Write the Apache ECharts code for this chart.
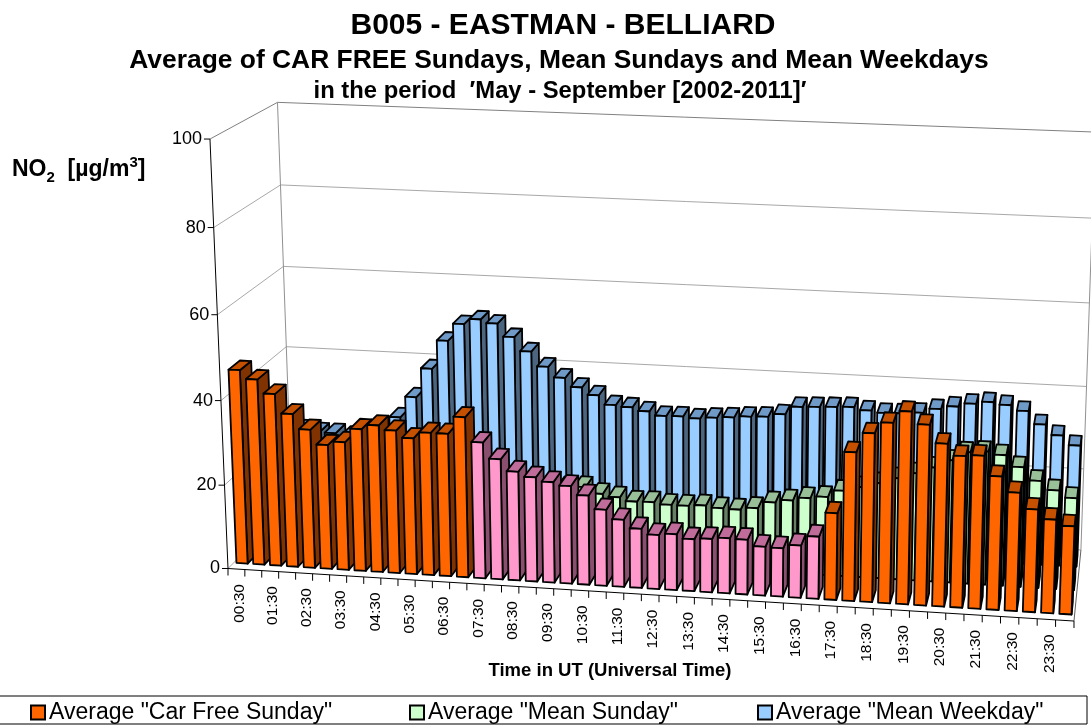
<!DOCTYPE html>
<html>
<head>
<meta charset="utf-8">
<style>html,body{margin:0;padding:0;background:#fff}#c{width:1091px;height:725px}</style>
<script src="https://cdn.jsdelivr.net/npm/echarts@6/dist/echarts.min.js"></script>
</head>
<body>
<div id="c"></div>
<script>
const categories = ['00:30','01:00','01:30','02:00','02:30','03:00','03:30','04:00','04:30','05:00','05:30','06:00',
  '06:30','07:00','07:30','08:00','08:30','09:00','09:30','10:00','10:30','11:00','11:30','12:00',
  '12:30','13:00','13:30','14:00','14:30','15:00','15:30','16:00','16:30','17:00','17:30','18:00',
  '18:30','19:00','19:30','20:00','20:30','21:00','21:30','22:00','22:30','23:00','23:30','24:00'];
const carFreeSunday = [46.2,44.2,41.0,36.5,33.0,29.6,30.5,33.8,34.9,33.9,32.3,33.8,
  33.8,37.9,32.2,28.5,25.8,24.7,23.8,23.1,21.1,18.0,15.9,14.0,
  12.8,13.2,12.3,12.6,13.0,12.9,11.5,11.4,12.3,14.6,20.3,34.6,
  39.2,41.8,44.6,41.8,37.7,35.1,35.4,30.9,27.4,23.8,21.7,20.4];
const meanSunday = [24,24,23,22,21,20,19,19,19,18,18,18,
  18,18,18,18,18,17.5,17.5,17.8,16.4,15.8,15.0,15.1,
  14.7,14.7,15.0,14.6,14.5,15.1,16.7,17.4,18.2,18.7,20.4,21.5,
  22.7,24.1,25.5,27.1,29.0,31.1,31.5,30.9,28.3,25.3,23.3,21.7];
const meanWeekday = [24,23,22.5,22.5,22,22.5,24,27.3,32.5,39.7,46.7,51,
  52.3,51.5,48.4,45.1,41.6,39.1,37,35.3,33.1,32.8,32,31.1,
  31.2,30.9,31.3,31.6,32,32.2,33,35,35.2,35.4,35.6,35,
  34.6,34.7,35.1,36.2,37,37.9,38.5,38,36.8,33.8,31.4,29.2];
const valueTicks = [0,20,40,60,80,100];
const carFreeWindow = ['07:30','17:00'];
const seriesNames = ['Average "Car Free Sunday"','Average "Mean Sunday"','Average "Mean Weekday"'];

const FONT = '"Liberation Sans", Arial, sans-serif';
const G = {left:100, top:100, width:800, height:400};
// perspective of the floor/wall box: x across, d depth, z height (all 0..1)
function project(x, d, z) {
  const u = 228 + 798.2*x + 85.2*d - 25.8*z;
  const v = 568.5 + 24.9*x - 27.9*d - 434.6*z;
  const w = 1 - 0.0445*x + 0.0727*d - 0.037*z;
  return [u/w, v/w];
}
const gx = px => (px - G.left)/G.width;
const gz = py => (G.top + G.height - py)/G.height;

const palette = {
  orange:{front:'#FF6600', side:'#803300', top:'#C45000'},
  pink:{front:'#FF99CC', side:'#8A4F6E', top:'#BF6C9A'},
  green:{front:'#CCFFCC', side:'#668066', top:'#99BF99'},
  blue:{front:'#99CCFF', side:'#4D6680', top:'#6F9AC8'}
};
const winStart = categories.indexOf(carFreeWindow[0]), winEnd = categories.indexOf(carFreeWindow[1]);

function barRenderer(row, colourOf) {
  const d0 = (row + 0.25)/3, d1 = (row + 0.75)/3;
  return function (params, api) {
    const i = api.value(0), val = api.value(1);
    const c = api.coord([i, val]), base = api.coord([i, 0]);
    const half = api.size([1, 0])[0]/3;
    const xa = gx(c[0]-half), xb = gx(c[0]+half), zt = gz(c[1]), zb = gz(base[1]);
    const col = colourOf(i);
    const poly = (pts, fill) => ({type:'polygon', shape:{points:pts},
      style:{fill, stroke:'#000', lineWidth:1.8, lineJoin:'round'}});
    return {type:'group', children:[
      poly([project(xb,d0,zb),project(xb,d1,zb),project(xb,d1,zt),project(xb,d0,zt)], col.side),
      poly([project(xa,d0,zt),project(xb,d0,zt),project(xb,d1,zt),project(xa,d1,zt)], col.top),
      poly([project(xa,d0,zb),project(xb,d0,zb),project(xb,d0,zt),project(xa,d0,zt)], col.front)
    ]};
  };
}

function frameRenderer(params, api) {
  const kids = [];
  const line = (a, b, stroke, lw) => kids.push({type:'line', shape:{x1:a[0],y1:a[1],x2:b[0],y2:b[1]},
    style:{stroke, lineWidth:lw||1}});
  valueTicks.forEach(v => {
    const z = gz(api.coord([0, v])[1]);
    const col = v === 100 ? '#808080' : '#A8A8A8';
    line(project(0,0,z), project(0,1,z), col);
    line(project(0,1,z), project(1,1,z), col);
    const p = project(0,0,z);
    line([p[0]-6,p[1]], p, '#000');
    kids.push({type:'text', style:{text:String(v), x:p[0]-8, y:p[1], align:'right', verticalAlign:'middle',
      font:'18px '+FONT, fill:'#000'}});
  });
  line(project(0,1,0), project(0,1,1), '#909090');
  line(project(1,0,0), project(1,1,0), '#606060');
  line(project(1,1,0), project(1,1,1), '#909090');
  line(project(0,0,0), project(0,0,1), '#000');
  line(project(0,0,0), project(1,0,0), '#000');
  const half = api.size([1,0])[0]/2;
  categories.forEach((name, i) => {
    const cx = api.coord([i, 0])[0];
    const t = project(gx(cx-half),0,0);
    line(t, [t[0], t[1]+7], '#000');
    if (i === categories.length-1) { const e = project(1,0,0); line(e,[e[0],e[1]+7],'#000'); }
    if (i % 2 === 0) {
      const m = project(gx(cx),0,0);
      kids.push({type:'text', x:m[0]+3, y:m[1]+15, rotation:Math.PI/2,
        style:{text:name, x:0, y:0, align:'right', verticalAlign:'middle', font:'15.5px '+FONT, fill:'#000'}});
    }
  });
  return {type:'group', children:kids};
}

const rowData = vals => vals.map((v,i)=>[i,v]);
const chart = echarts.init(document.getElementById('c'), null, {renderer:'canvas'});
const titleLine = (text, y, size, cx, extra) => Object.assign({text, left:cx, top:y, textAlign:'center',
  textStyle:{fontFamily:FONT, fontWeight:'bold', fontSize:size, color:'#000'}}, extra||{});
const legendBase = {top:701, itemWidth:14, itemHeight:14, selectedMode:false, itemGap:6, padding:0, icon:'rect',
  textStyle:{fontFamily:FONT, fontSize:23, color:'#000', padding:[0,0,0,-1]}};
chart.setOption({
  animation:false,
  backgroundColor:'#fff',
  title:[
    titleLine('B005 - EASTMAN - BELLIARD', 6, 30, 558),
    titleLine('Average of CAR FREE Sundays, Mean Sundays and Mean Weekdays', 43, 26.4, 554),
    titleLine("in the period  \u2032May - September [2002-2011]\u2032", 74, 23.8, 555),
    titleLine('Time in UT (Universal Time)', 656, 18.5, 605),
    {left:7, top:150, text:'{a|NO}{s|2}{a|  [\u00b5g/m}{p|3}{a|]}',
     textStyle:{rich:{
       a:{fontFamily:FONT,fontWeight:'bold',fontSize:23,color:'#000',lineHeight:30},
       s:{fontFamily:FONT,fontWeight:'bold',fontSize:15,color:'#000',verticalAlign:'bottom',lineHeight:30},
       p:{fontFamily:FONT,fontWeight:'bold',fontSize:15,color:'#000',verticalAlign:'top',lineHeight:30}}}}
  ],
  grid:{left:G.left, top:G.top, width:G.width, height:G.height, show:false},
  xAxis:{type:'category', data:categories, show:false},
  yAxis:{type:'value', min:0, max:100, interval:20, show:false},
  legend:[
    Object.assign({}, legendBase, {left:30, data:[seriesNames[0]]}),
    Object.assign({}, legendBase, {left:409, data:[seriesNames[1]]}),
    Object.assign({}, legendBase, {left:757, data:[seriesNames[2]]})
  ],
  graphic:[{type:'rect', silent:true, z:-1, shape:{x:-2,y:696,width:1089,height:28},
    style:{fill:'#fff', stroke:'#000', lineWidth:1}}],
  tooltip:{show:false},
  series:[
    {type:'custom', name:'frame', z:1, silent:true, clip:false, data:[[0,0]], renderItem:frameRenderer},
    {type:'custom', name:seriesNames[2], z:2, clip:false, encode:{x:0,y:1}, data:rowData(meanWeekday),
      itemStyle:{color:palette.blue.front,borderColor:'#000',borderWidth:1},
      renderItem:barRenderer(2, ()=>palette.blue)},
    {type:'custom', name:seriesNames[1], z:3, clip:false, encode:{x:0,y:1}, data:rowData(meanSunday),
      itemStyle:{color:palette.green.front,borderColor:'#000',borderWidth:1},
      renderItem:barRenderer(1, ()=>palette.green)},
    {type:'custom', name:seriesNames[0], z:4, clip:false, encode:{x:0,y:1}, data:rowData(carFreeSunday),
      itemStyle:{color:palette.orange.front,borderColor:'#000',borderWidth:1},
      renderItem:barRenderer(0, i=> (i>=winStart && i<=winEnd) ? palette.pink : palette.orange)}
  ]
});
</script>
</body>
</html>
